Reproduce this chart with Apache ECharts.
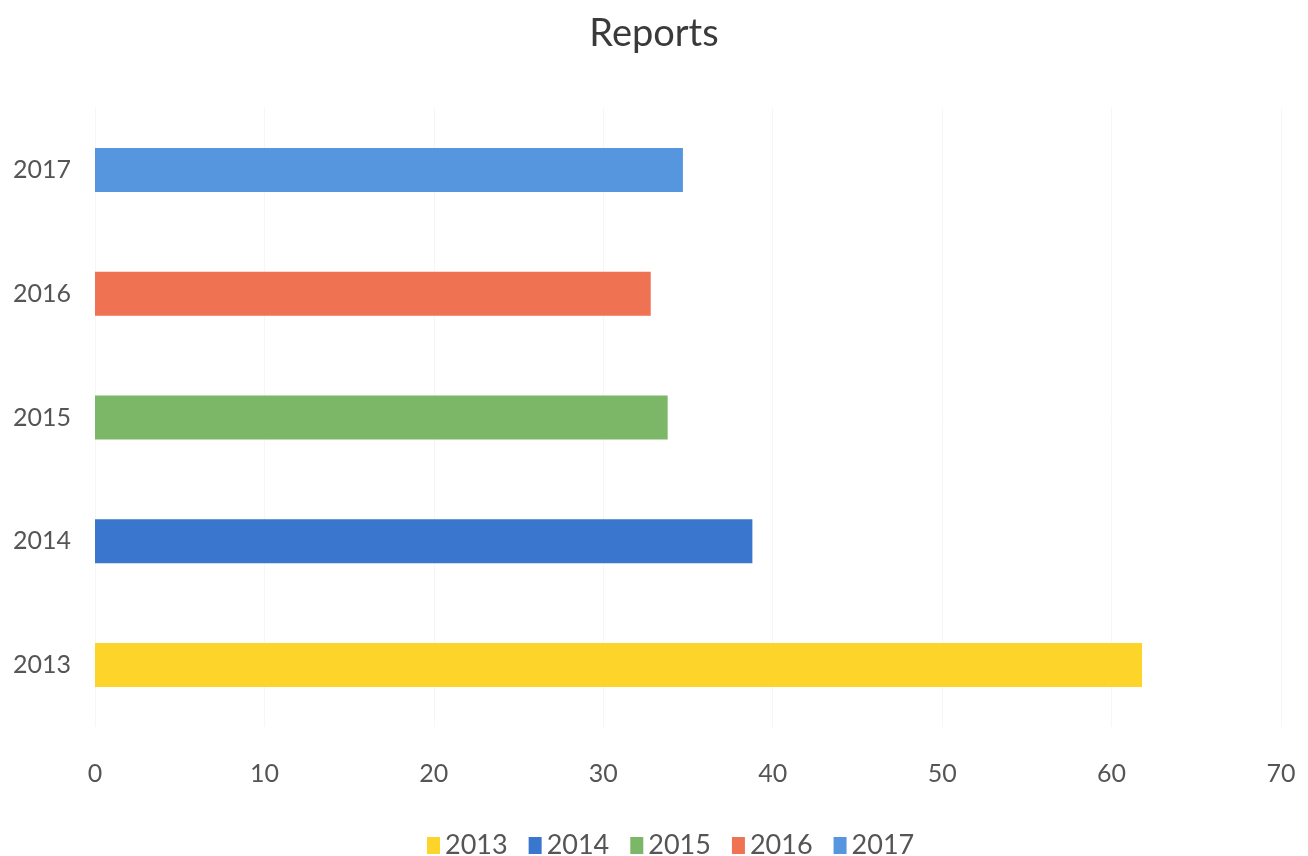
<!DOCTYPE html>
<html>
<head>
<meta charset="utf-8">
<script src="https://cdn.jsdelivr.net/npm/echarts@6/dist/echarts.min.js"></script>
<style>html,body{margin:0;padding:0;background:#fff}#c{width:1308px;height:856px}</style>
</head>
<body>
<div id="c"></div>
<script>
const categories = ['2013', '2014', '2015', '2016', '2017'];
const seriesNames = ['2013', '2014', '2015', '2016', '2017'];
const values = [61.8, 38.8, 33.8, 32.8, 34.7];
const colors = ['#FDD52A', '#3B76CE', '#7BB766', '#EF7252', '#5596DE'];
const xTicks = [0, 10, 20, 30, 40, 50, 60, 70];

const FONT = 'Lato';
const series = seriesNames.map((name, i) => ({
  name: name,
  type: 'bar',
  stack: 'all',
  barWidth: 44,
  itemStyle: { color: colors[i] },
  data: categories.map((c, j) => (j === i ? values[i] : null))
}));

const chart = echarts.init(document.getElementById('c'));
chart.setOption({
  animation: false,
  title: {
    text: 'Reports', left: 'center', top: 10,
    textStyle: { fontFamily: FONT, fontSize: 38, fontWeight: 'normal', color: '#3a3a3a' }
  },
  legend: {
    top: 827, left: 422, itemWidth: 13, itemHeight: 17, itemGap: 21,
    icon: 'rect',
    textStyle: { fontFamily: FONT, fontSize: 27, color: '#555' },
    data: seriesNames
  },
  grid: { left: 95, right: 27, top: 108, bottom: 129 },
  xAxis: {
    type: 'value', min: xTicks[0], max: xTicks[xTicks.length - 1], interval: 10,
    axisLine: { show: false }, axisTick: { show: false },
    splitLine: { lineStyle: { color: '#f6f6f6' } },
    axisLabel: { fontFamily: FONT, fontSize: 25, color: '#555', margin: 34 }
  },
  yAxis: {
    type: 'category', data: categories,
    axisLine: { show: false }, axisTick: { show: false },
    axisLabel: { fontFamily: FONT, fontSize: 25, color: '#555', margin: 24 }
  },
  series: series
});
</script>
</body>
</html>
